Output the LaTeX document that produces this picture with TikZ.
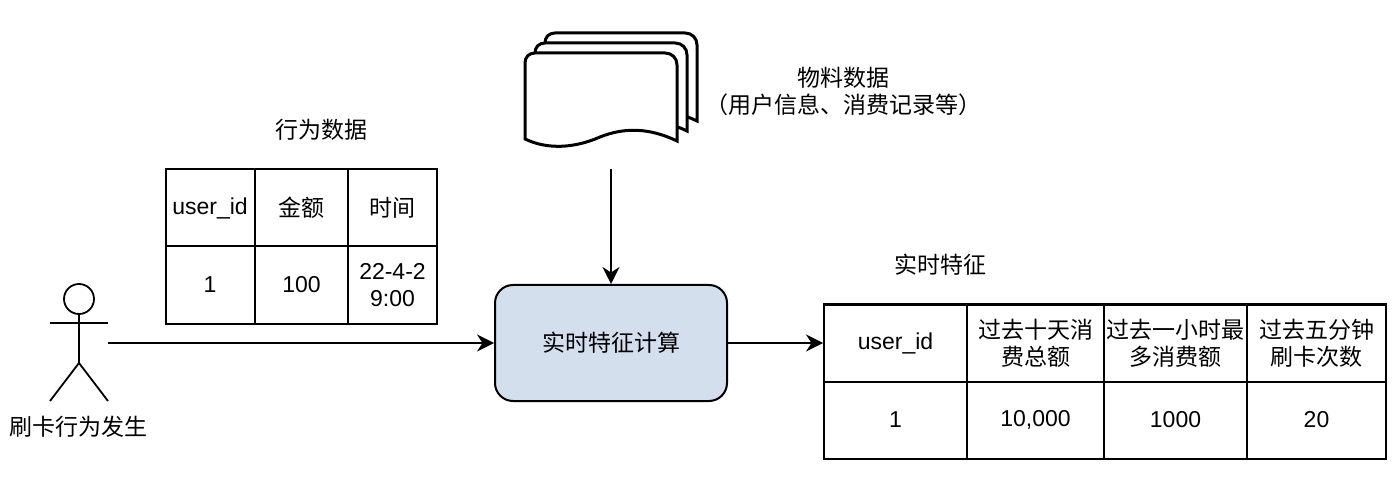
\documentclass[tikz,border=0pt]{standalone}
\usepackage{fontspec}
\setmainfont{Liberation Sans}
\newfontfamily\cjk{Noto Sans CJK SC}
\usepackage{xcolor}
\usepackage{tikz}
\usetikzlibrary{arrows.meta}
\definecolor{calcblue}{HTML}{D4DFEE}
\tikzset{
	txt/.style={text=black,font=\fontsize{11.5}{13.5}\selectfont,align=center,inner sep=0pt},
	cell/.style={txt,rectangle,draw,line width=1pt,minimum height=38.5pt},
	conn/.style={->,line width=1pt},
	docline/.style={draw,fill=white,line width=1.5pt},
	actor/.style={line width=0.9pt}
}
\begin{document}
\begin{tikzpicture}[x=0.5pt,y=-0.5pt,>={Stealth[length=8.5pt,width=8.5pt]}]
	\useasboundingbox (0,0) rectangle (1400,491);
	
	% 物料数据
	\foreach \d in {20,10,0}{
		\draw[docline,shift={(\d,-\d)}] (525,139) -- (525,63)
		.. controls (525,57) and (529,53) .. (535,53) -- (665,53)
		.. controls (672,53) and (677,58) .. (677,65) -- (677,141)
		.. controls (650,128) and (625,127) .. (600,137)
		.. controls (575,148) and (548,150) .. (525,139) -- cycle;
	}
	\coordinate (docs) at (611,169);
	\node[txt] (wuliaoa) at (843,78) {\cjk 物料数据};
	\node[txt] (wuliaob) at (843,105) {\cjk （用户信息、消费记录等）};
	
	% 行为数据
	\node[txt] (xingwei) at (321,130) {\cjk 行为数据};
	\foreach \i/\x/\w/\name in {1/210/89/user\_id,2/301.5/93/\cjk 金额,3/392.5/89/\cjk 时间}{
		\node[cell,minimum width=\w*0.5pt] (ah\i) at (\x,208){\name};
	}
	\foreach \i/\x/\w/\name in {1/210/89/1,2/301.5/93/100,3/392.5/89/22-4-2\\9:00}{
		\node[cell,minimum width=\w*0.5pt] (ar\i) at (\x,285){\name};
	}
	
	% 实时特征
	\node[txt] (shishi) at (940,265) {\cjk 实时特征};
	\foreach \i/\x/\w/\name in {1/895.5/143/user\_id,2/1035.5/137/\cjk 过去十天消\\\cjk 费总额,3/1175.5/143/\cjk 过去一小时最\\\cjk 多消费额,4/1316.5/139/\cjk 过去五分钟\\\cjk 刷卡次数}{
		\node[cell,minimum width=\w*0.5pt] (bh\i) at (\x,343){\name};
	}
	\foreach \i/\x/\w/\name in {1/895.5/143/1,2/1035.5/137/{10,000},3/1175.5/143/1000,4/1316.5/139/20}{
		\node[cell,minimum width=\w*0.5pt] (br\i) at (\x,420){\name};
	}
	
	% 刷卡行为发生
	\node[circle,draw,actor,minimum size=15pt,inner sep=0pt] (head) at (79,299){};
	\coordinate (hip) at (79,363);
	\draw[actor] (head) -- (hip);
	\draw[actor] (50,323) -- (108,323);
	\draw[actor] (50,401) -- (hip) -- (108,401);
	\coordinate (hand) at (108,343);
	\node[txt] (shuaka) at (79,427) {\cjk 刷卡行为发生};
	
	\node[txt,rectangle,draw,fill=calcblue,line width=1pt,rounded corners=9pt,minimum width=116pt,minimum height=58pt] (calc) at (611,343) {\cjk 实时特征计算};
	
	\draw[conn] (docs) -- (calc);
	\draw[conn] (hand) -- (calc);
	\draw[conn] (calc) -- (bh1);
\end{tikzpicture}
\end{document}
